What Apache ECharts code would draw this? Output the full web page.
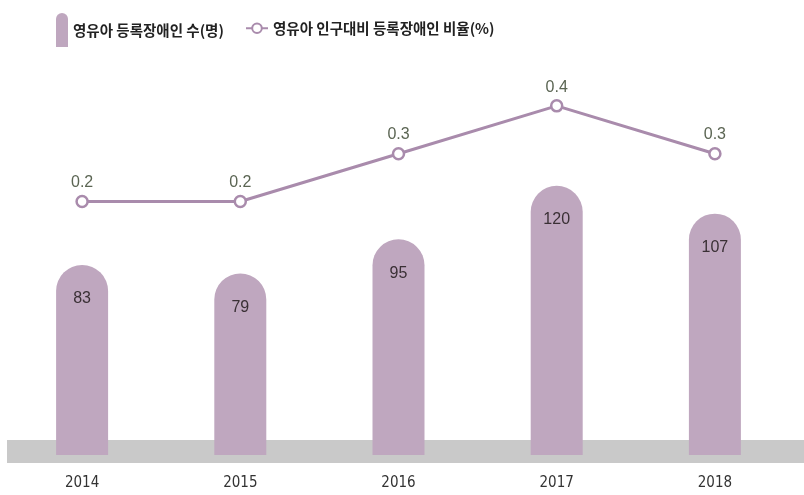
<!DOCTYPE html>
<html>
<head>
<meta charset="utf-8">
<script src="https://cdn.jsdelivr.net/npm/echarts@6/dist/echarts.min.js"></script>
<style>
  html, body { margin: 0; padding: 0; background: #fff; }
  #chart { width: 804px; height: 495px; }
</style>
</head>
<body>
<div id="chart"></div>
<script>
const years = ["2014", "2015", "2016", "2017", "2018"];
const registered = [83, 79, 95, 120, 107];
const ratio = [0.2, 0.2, 0.3, 0.4, 0.3];

const barName = "영유아 등록장애인 수(명)";
const lineName = "영유아 인구대비 등록장애인 비율(%)";
const barColor = "#bfa7bf";
const lineColor = "#a98bac";

const legendText = {
  fontFamily: "Noto Sans CJK KR",
  fontSize: 14.5,
  fontWeight: "bold",
  color: "#222",
};

const chart = echarts.init(document.getElementById("chart"));

chart.setOption({
  animation: false,
  legend: [
    {
      left: 51,
      top: 8,
      itemWidth: 12,
      itemHeight: 34,
      itemGap: 6,
      textStyle: legendText,
      data: [
        {
          name: barName,
          icon: "path://M0,6 A6,6 0 0 1 12,6 L12,34 L0,34 Z",
          itemStyle: { color: barColor },
        },
      ],
    },
    {
      left: 240,
      top: 16,
      itemWidth: 22,
      itemHeight: 12,
      textStyle: legendText,
      data: [{ name: lineName }],
    },
  ],
  graphic: [
    {
      type: "rect",
      z: -1,
      shape: { x: 7, y: 440, width: 797, height: 23 },
      style: { fill: "#c9c9c9" },
    },
  ],
  grid: { left: 3, right: 10, top: 15, bottom: 40 },
  xAxis: {
    type: "category",
    data: years,
    axisLine: { show: false },
    axisTick: { show: false },
    axisLabel: {
      margin: 21,
      fontFamily: "DejaVu Sans Condensed",
      fontSize: 15,
      color: "#333",
    },
  },
  yAxis: [
    { type: "value", min: -6, max: 200, startValue: -6, show: false },
    { type: "value", min: -0.33, max: 0.59, show: false },
  ],
  series: [
    {
      name: barName,
      type: "bar",
      data: registered,
      barWidth: 52,
      itemStyle: { color: barColor, borderRadius: [26, 26, 0, 0] },
      label: {
        show: true,
        position: "insideTop",
        distance: 26,
        fontFamily: "Liberation Sans",
        fontSize: 16,
        color: "#3a3035",
      },
    },
    {
      name: lineName,
      type: "line",
      yAxisIndex: 1,
      data: ratio,
      symbol: "circle",
      symbolSize: 11,
      lineStyle: { color: lineColor, width: 3 },
      itemStyle: { color: "#fff", borderColor: lineColor, borderWidth: 2.5 },
      label: {
        show: true,
        position: "top",
        distance: 4,
        fontFamily: "Liberation Sans",
        fontSize: 16,
        color: "#5b6553",
      },
    },
  ],
});
</script>
</body>
</html>
